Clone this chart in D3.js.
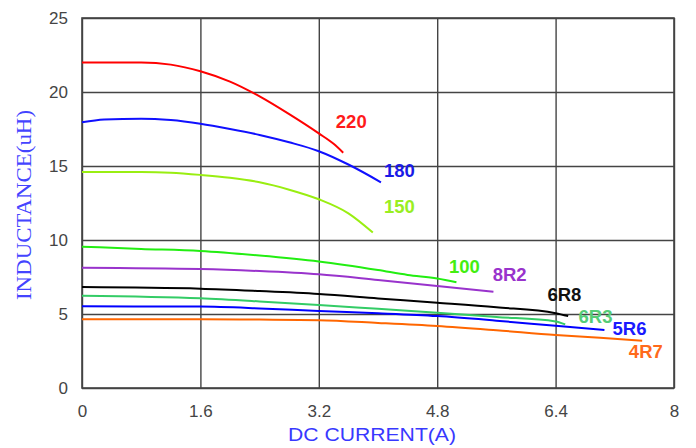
<!DOCTYPE html>
<html>
<head>
<meta charset="utf-8">
<script src="https://cdn.jsdelivr.net/npm/d3@7"></script>
<style>
  body { margin: 0; background: #fff; }
  .grid line { stroke: #444; stroke-width: 1.4; }
  .grid text { fill: #444; font-family: "Liberation Sans", Arial, sans-serif; font-size: 17px; }
  .lbl { font-family: "Liberation Sans", Arial, sans-serif; font-size: 18.5px; font-weight: bold; }
</style>
</head>
<body>
<svg id="chart" width="696" height="448"></svg>
<script>
// tick labels
var xTicks = [0, 1.6, 3.2, 4.8, 6.4, 8];
var yTicks = [0, 5, 10, 15, 20, 25];

// curves: current (A) and inductance (uH)
var i220 = [0, 0.8, 1.2, 1.6, 2.0, 2.4, 2.8, 3.2, 3.4, 3.53];
var l220 = [22.0, 22.0, 21.85, 21.4, 20.7, 19.7, 18.5, 17.2, 16.5, 15.9];
var i180 = [0, 0.3, 0.8, 1.2, 1.6, 2.0, 2.4, 2.8, 3.2, 3.6, 4.04];
var l180 = [17.95, 18.15, 18.2, 18.1, 17.85, 17.5, 17.1, 16.6, 16.0, 15.1, 13.9];
var i150 = [0, 0.8, 1.2, 1.6, 2.0, 2.4, 2.8, 3.2, 3.6, 3.93];
var l150 = [14.6, 14.6, 14.55, 14.4, 14.2, 13.9, 13.4, 12.75, 11.8, 10.5];
var i100 = [0, 0.8, 1.6, 2.4, 3.2, 4.0, 4.4, 4.8, 5.06];
var l100 = [9.55, 9.4, 9.26, 8.95, 8.55, 7.97, 7.64, 7.4, 7.15];
var i8R2 = [0, 1.6, 2.4, 3.2, 4.0, 4.8, 5.56];
var l8R2 = [8.13, 8.04, 7.9, 7.68, 7.3, 6.9, 6.5];
var i6R8 = [0, 1.6, 2.4, 3.2, 4.0, 4.8, 5.6, 6.4, 6.57];
var l6R8 = [6.82, 6.71, 6.55, 6.35, 6.05, 5.76, 5.45, 5.05, 4.86];
var i6R3 = [0, 1.6, 2.4, 3.2, 4.0, 4.8, 5.6, 6.4, 6.53];
var l6R3 = [6.24, 6.06, 5.85, 5.61, 5.35, 5.09, 4.8, 4.5, 4.3];
var i5R6 = [0, 1.6, 2.4, 3.2, 4.0, 4.8, 5.6, 6.4, 7.06];
var l5R6 = [5.52, 5.5, 5.38, 5.2, 5.05, 4.86, 4.55, 4.2, 3.92];
var i4R7 = [0, 1.6, 2.4, 3.2, 4.0, 4.8, 5.6, 6.4, 7.0, 7.57];
var l4R7 = [4.64, 4.64, 4.62, 4.58, 4.4, 4.19, 3.9, 3.58, 3.4, 3.2];

// label anchors in data units (left, baseline)
var labelNames = ["220", "180", "150", "100", "8R2", "6R8", "6R3", "5R6", "4R7"];
var labelX = [3.43, 4.08, 4.08, 4.96, 5.55, 6.29, 6.71, 7.17, 7.39];
var labelY = [17.6, 14.25, 11.85, 7.8, 7.25, 5.85, 4.42, 3.6, 2.0];

var lineColors = ["#ff0000", "#1010ff", "#99ee11", "#22ee11", "#9933cc", "#000000", "#33cc66", "#0000ff", "#ff6600"];
var textColors = ["#ff1a1a", "#1a1ae6", "#99ee22", "#44ee11", "#9933cc", "#111111", "#55cc77", "#1a1aff", "#ff6a1a"];

var series = [
  {I: i220, L: l220}, {I: i180, L: l180}, {I: i150, L: l150},
  {I: i100, L: l100}, {I: i8R2, L: l8R2}, {I: i6R8, L: l6R8},
  {I: i6R3, L: l6R3}, {I: i5R6, L: l5R6}, {I: i4R7, L: l4R7}
];

var svg = d3.select("#chart");
var plotL = 82, plotR = 674, plotT = 18, plotB = 388;

var x = d3.scaleLinear().domain([0, 8]).range([plotL, plotR]);
var y = d3.scaleLinear().domain([0, 25]).range([plotB, plotT]);

// grid + ticks
var gx = svg.append("g")
  .attr("class", "grid")
  .attr("transform", "translate(0," + plotB + ")")
  .call(d3.axisBottom(x).tickValues(xTicks).tickSize(-(plotB - plotT)).tickPadding(17)
    .tickFormat(function(d) { return d; }));
gx.select(".domain").remove();

var gy = svg.append("g")
  .attr("class", "grid")
  .attr("transform", "translate(" + plotL + ",0)")
  .call(d3.axisLeft(y).tickValues(yTicks).tickSize(-(plotR - plotL)).tickPadding(14));
gy.select(".domain").remove();

svg.append("rect")
  .attr("x", plotL).attr("y", plotT)
  .attr("width", plotR - plotL).attr("height", plotB - plotT)
  .attr("fill", "none")
  .attr("stroke", "#444")
  .attr("stroke-width", 1.6);

var line = d3.line()
  .curve(d3.curveMonotoneX)
  .x(function(d) { return x(d[0]); })
  .y(function(d) { return y(d[1]); });

svg.selectAll(".curve")
  .data(series)
  .enter().append("path")
  .attr("class", "curve")
  .attr("fill", "none")
  .attr("stroke-width", 2)
  .attr("stroke", function(d, i) { return lineColors[i]; })
  .attr("d", function(d) { return line(d.I.map(function(v, k) { return [v, d.L[k]]; })); });

svg.selectAll(".lbl")
  .data(labelNames)
  .enter().append("text")
  .attr("class", "lbl")
  .attr("x", function(d, i) { return x(labelX[i]); })
  .attr("y", function(d, i) { return y(labelY[i]); })
  .attr("fill", function(d, i) { return textColors[i]; })
  .text(function(d) { return d; });

// axis titles
svg.append("text")
  .attr("x", 372).attr("y", 441)
  .attr("text-anchor", "middle")
  .attr("font-family", "Liberation Sans, Arial, sans-serif")
  .attr("font-size", 19)
  .attr("fill", "#3838ff")
  .attr("textLength", 168)
  .attr("lengthAdjust", "spacingAndGlyphs")
  .text("DC CURRENT(A)");

svg.append("text")
  .attr("transform", "translate(31,205) rotate(-90)")
  .attr("text-anchor", "middle")
  .attr("font-family", "Liberation Serif, Times New Roman, serif")
  .attr("font-size", 20)
  .attr("fill", "#4444ff")
  .attr("textLength", 190)
  .attr("lengthAdjust", "spacingAndGlyphs")
  .text("INDUCTANCE(uH)");
</script>
</body>
</html>
